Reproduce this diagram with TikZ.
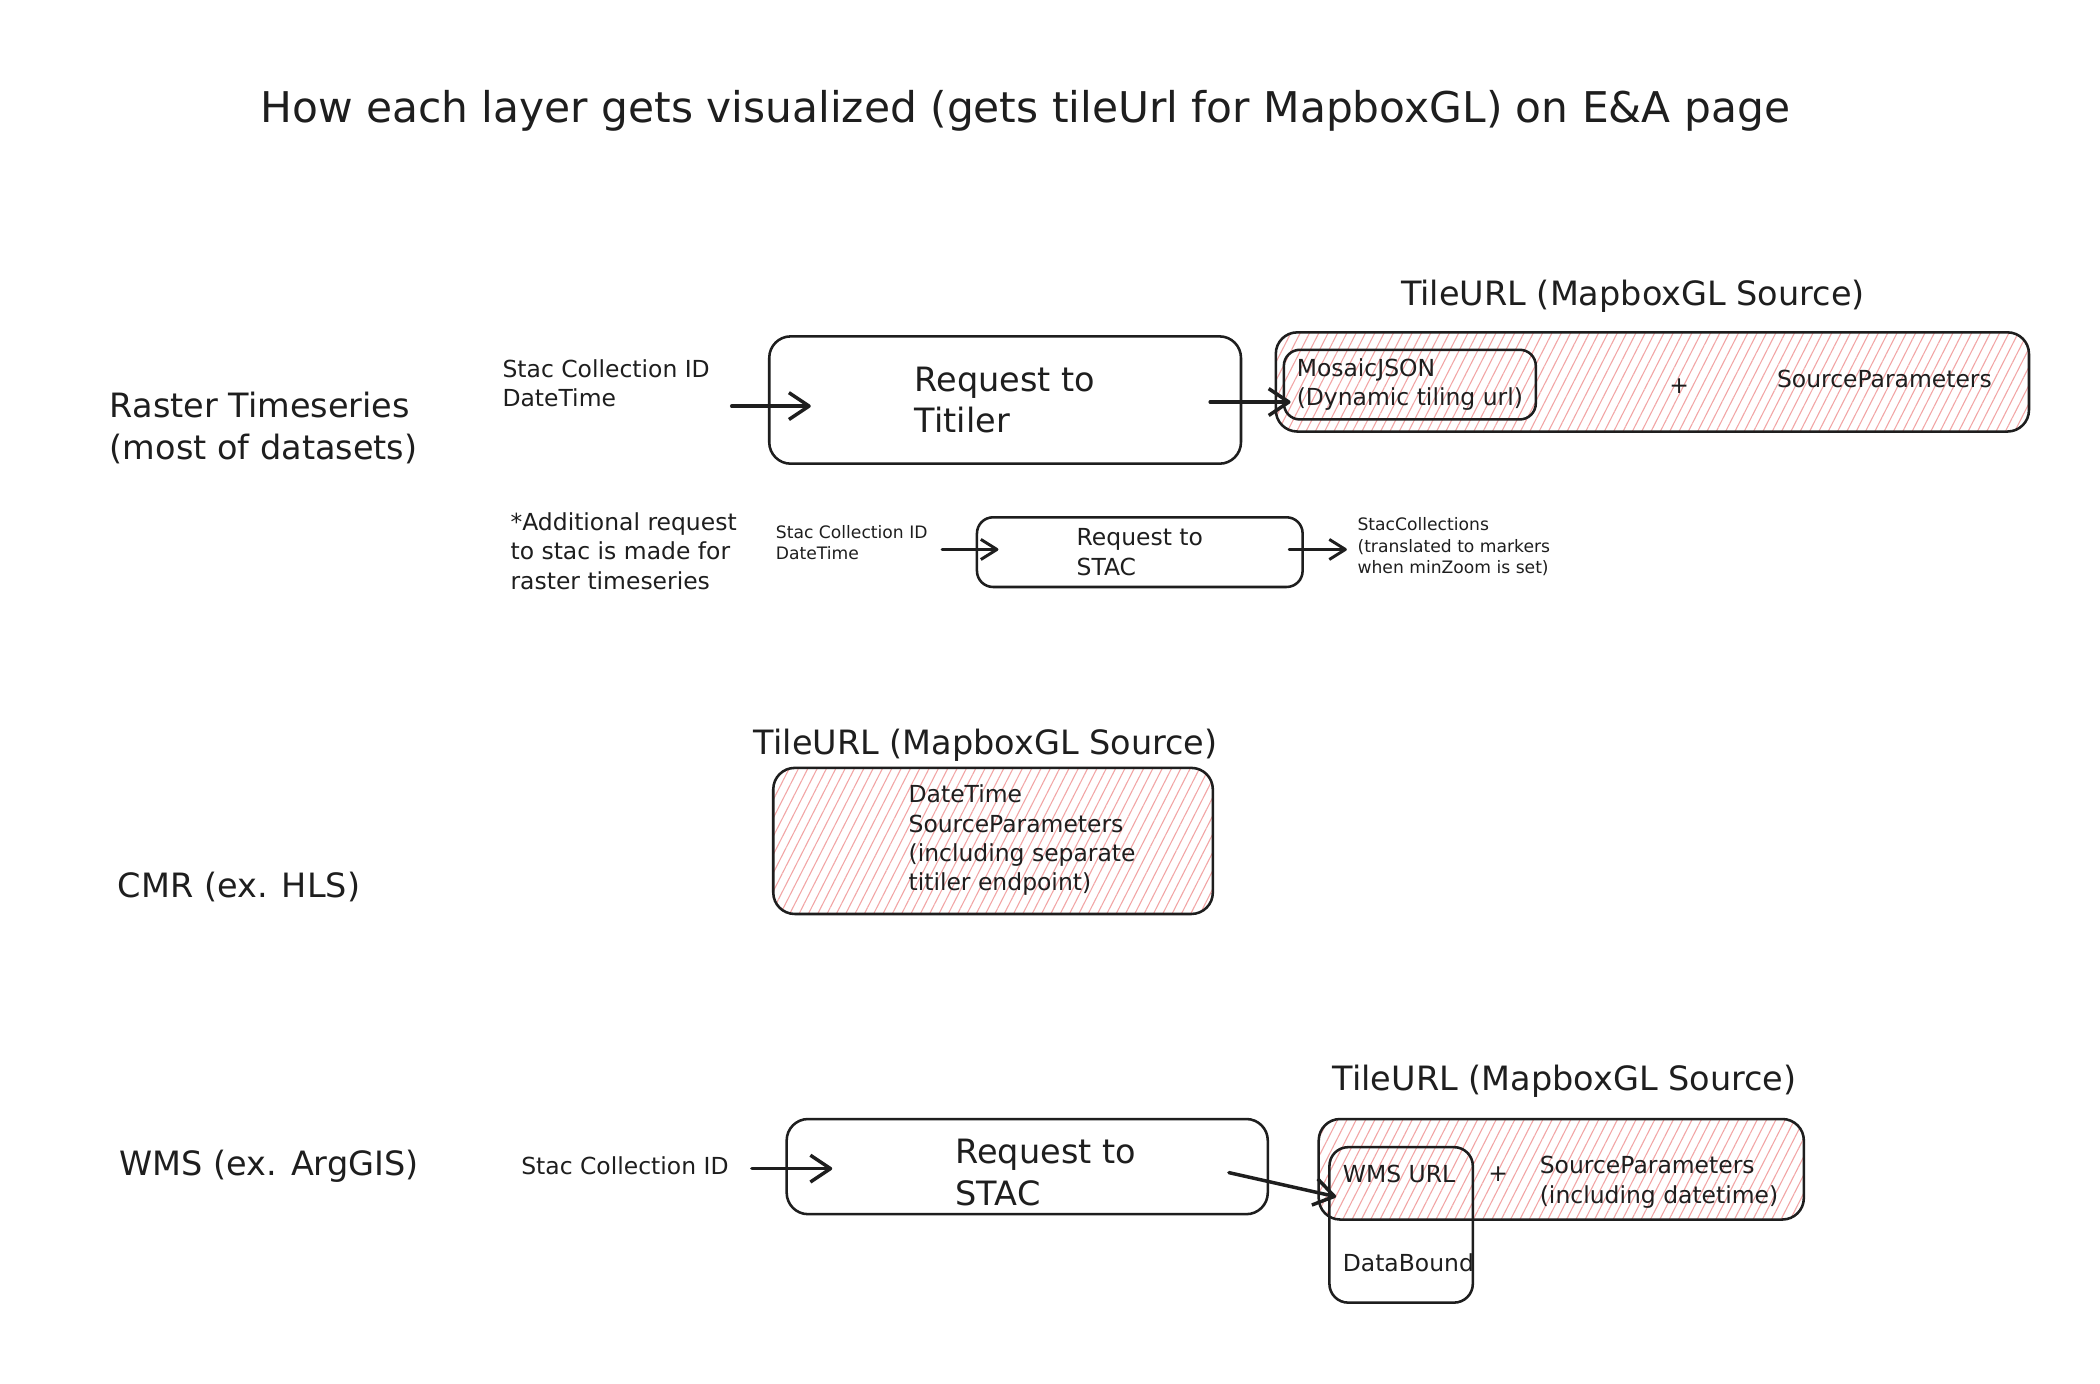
\documentclass[tikz,border=0pt]{standalone}
\usepackage{fontspec}
\setmainfont{DejaVu Sans}
\usetikzlibrary{arrows.meta,patterns.meta,calc}
\definecolor{ink}{RGB}{30,30,30}
\definecolor{hatch}{RGB}{242,165,165}
\begin{document}
\begin{tikzpicture}[x=1pt,y=-1pt,
  every node/.style={inner sep=0pt, outer sep=0pt, text=ink},
  ttl/.style={font=\fontsize{31.6}{38}\selectfont},
  big/.style={font=\fontsize{25}{31}\selectfont, align=left},
  med/.style={font=\fontsize{17.5}{22}\selectfont, align=left},
  sml/.style={font=\fontsize{12.8}{16}\selectfont, align=left},
  box/.style={draw=ink, line width=1.9pt, rounded corners=16pt},
  hbox/.style={box, pattern={Lines[angle=63,distance=6.2pt,line width=0.8pt]}, pattern color=hatch},
  conn/.style={draw=ink, line width=2.6pt, line cap=round, -{Straight Barb[length=15pt,width=20pt,line join=round]}},
  sconn/.style={draw=ink, line width=2.2pt, line cap=round, -{Straight Barb[length=12pt,width=15pt,line join=round]}},
]
\fill[white] (0,0) rectangle (1567,1032.7);
\useasboundingbox (0,0) rectangle (1567,1032.7);

\node[ttl] (title) at (765,83) {How each layer gets visualized (gets tileUrl for MapboxGL) on E\&A page};

% Row 1
\node[big, anchor=west] (raster) at (82,319.5) {Raster Timeseries\\(most of datasets)};
\node[med, anchor=west] (stacA) at (375,286) {Stac Collection ID\\DateTime};
\node[box, minimum width=352pt, minimum height=95pt, big] (titiler) at (750,298.5) {Request to\\Titiler};
\node[big] (tile1lbl) at (1218.5,221) {TileURL (MapboxGL Source)};
\node[hbox, minimum width=562pt, minimum height=74pt] (tile1) at (1233,285) {};
\node[box, rounded corners=12pt, minimum width=188pt, minimum height=52pt, med] (mosaic) at (1052,287) {MosaicJSON\\(Dynamic tiling url)};
\node[med] (plus1) at (1253,288) {+};
\node[med, anchor=west] (src1) at (1326,283) {SourceParameters};

\draw[conn] ($(titiler.west)+(-28,4.5)$) -- ($(titiler.west)+(31,4.5)$);
\draw[conn] ($(titiler.east)+(-23,1.5)$) -- ($(mosaic.west)+(5,13)$);

% Row 1b
\node[med, anchor=west] (addl) at (381,411) {*Additional request\\to stac is made for\\raster timeseries};
\node[sml, anchor=west] (stacB) at (579,405) {Stac Collection ID\\DateTime};
\node[box, rounded corners=12pt, minimum width=243pt, minimum height=52pt, med] (stacbox) at (850.5,412) {Request to\\STAC};
\node[sml, anchor=west] (colls) at (1013,408) {StacCollections\\(translated to markers\\when minZoom is set)};
\draw[sconn] ($(stacbox.west)+(-26,-2)$) -- ($(stacbox.west)+(16,-2)$);
\draw[sconn] ($(stacbox.east)+(-10,-2)$) -- ($(stacbox.east)+(33,-2)$);

% Row 2
\node[big, anchor=west] (cmr) at (88,662) {CMR (ex. HLS)};
\node[big] (tile2lbl) at (735.5,556) {TileURL (MapboxGL Source)};
\node[hbox, minimum width=328pt, minimum height=109pt] (tile2) at (741,627.5) {};
\node[med, anchor=west] (tile2txt) at (678,627) {DateTime\\SourceParameters\\(including separate\\titiler endpoint)};

% Row 3
\node[big, anchor=west] (wms) at (89,870) {WMS (ex. ArgGIS)};
\node[med, anchor=west] (stacC) at (389,870) {Stac Collection ID};
\node[box, minimum width=359pt, minimum height=71pt] (stacCbox) at (766.5,870.5) {};
\node[big, anchor=west] (stacCtxt) at (713,875) {Request to\\STAC};
\node[big] (tile3lbl) at (1167.5,807) {TileURL (MapboxGL Source)};
\node[hbox, minimum width=362pt, minimum height=75pt] (tile3) at (1165,872.5) {};
\node[box, rounded corners=14pt, minimum width=107pt, minimum height=116pt] (wmsbox) at (1045.5,914) {};
\node[med, anchor=west] (wmsurl) at (1002,876) {WMS URL};
\node[med, anchor=west] (databound) at (1002,942) {DataBound};
\node[med] (plus3) at (1118,876) {+};
\node[med, anchor=west] (src3) at (1149,882) {SourceParameters\\(including datetime)};

\draw[conn] ($(stacCbox.west)+(-26,1.5)$) -- ($(stacCbox.west)+(34,1.5)$);
\draw[conn] ($(stacCbox.east)+(-29,4.5)$) -- ($(wmsbox.west)+(5,-21)$);
\end{tikzpicture}
\end{document}
